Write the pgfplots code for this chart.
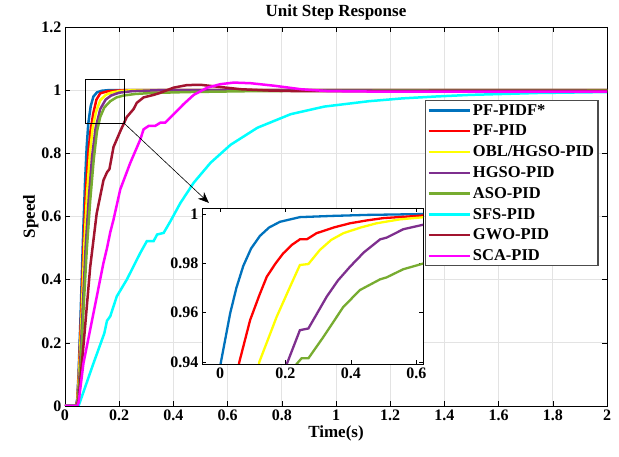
\documentclass[border=0pt]{standalone}
\usepackage{pgfplots}
\pgfplotsset{compat=1.18}
\usepackage{fontspec}
\setmainfont{Liberation Serif}
\usetikzlibrary{arrows.meta}
\definecolor{mblue}{rgb}{0,0.447,0.741}
\definecolor{mpurple}{rgb}{0.494,0.184,0.556}
\definecolor{mgreen}{rgb}{0.466,0.674,0.188}
\definecolor{mdred}{rgb}{0.635,0.078,0.184}
\definecolor{mred}{rgb}{1,0,0}
\definecolor{myellow}{rgb}{1,1,0}
\definecolor{mcyan}{rgb}{0,1,1}
\definecolor{mmagenta}{rgb}{1,0,1}
\begin{document}
\begin{tikzpicture}
\begin{axis}[
  name=main,
  width=542pt,height=379pt,scale only axis,
  xmin=0,xmax=2,ymin=0,ymax=1.2,
  xtick={0,0.2,0.4,0.6,0.8,1,1.2,1.4,1.6,1.8,2},
  xticklabels={0,0.2,0.4,0.6,0.8,1,1.2,1.4,1.6,1.8,2},
  ytick={0,0.2,0.4,0.6,0.8,1,1.2},
  yticklabels={0,0.2,0.4,0.6,0.8,1,1.2},
  grid=major, grid style={gray!22,line width=0.7pt},
  tick align=inside, major tick length=5pt,
  axis line style={line width=0.8pt},
  tick style={black,line width=0.6pt},
  ticklabel style={font=\fontsize{16}{18}\selectfont\bfseries},
  /pgf/number format/assume math mode=true,
  title={Unit Step Response},
  title style={font=\fontsize{17}{20}\selectfont\bfseries,yshift=-3pt},
  xlabel={Time(s)}, ylabel={Speed},
  label style={font=\fontsize{17}{20}\selectfont\bfseries},
  xlabel style={yshift=2pt},
  ylabel style={yshift=-4pt},
  legend image code/.code={\draw[#1] (0pt,0pt) -- (41pt,0pt);},
  legend style={at={(0.664,0.807)},anchor=north west,draw=gray!60!black,line width=1.2pt,
    font=\fontsize{16.5}{19}\selectfont\bfseries,cells={anchor=west},
    inner xsep=2pt,inner ysep=1.5pt,row sep=4.4pt},
  every axis plot/.append style={line width=2.5pt},
]
\addplot[mblue] coordinates {(0,0)(0.04,0)(0.045,0.02)(0.05,0.1)(0.058,0.3)(0.066,0.52)(0.074,0.71)(0.08,0.82)(0.086,0.895)(0.095,0.95)(0.105,0.98)(0.118,0.993)(0.135,0.998)(0.16,1)(2,1)};
\addplot[mred] coordinates {(0,0)(0.04,0)(0.045,0.015)(0.051,0.1)(0.06,0.3)(0.069,0.52)(0.078,0.69)(0.086,0.8)(0.094,0.87)(0.104,0.925)(0.116,0.97)(0.13,0.99)(0.16,0.997)(0.22,1)(2,1)};
\addplot[myellow] coordinates {(0,0)(0.04,0)(0.045,0.01)(0.052,0.1)(0.062,0.3)(0.072,0.52)(0.082,0.68)(0.092,0.8)(0.102,0.88)(0.114,0.93)(0.13,0.968)(0.15,0.985)(0.17,0.992)(0.2,0.997)(0.25,1)(2,1)};
\addplot[mpurple] coordinates {(0,0)(0.04,0)(0.046,0.01)(0.054,0.1)(0.065,0.3)(0.076,0.5)(0.088,0.66)(0.1,0.79)(0.113,0.88)(0.13,0.94)(0.15,0.97)(0.17,0.983)(0.2,0.992)(0.25,0.997)(0.35,1)(2,1)};
\addplot[mgreen] coordinates {(0,0)(0.04,0)(0.047,0.01)(0.056,0.1)(0.068,0.3)(0.08,0.49)(0.093,0.65)(0.106,0.78)(0.118,0.87)(0.13,0.915)(0.145,0.945)(0.167,0.965)(0.19,0.977)(0.216,0.983)(0.26,0.988)(0.32,0.991)(0.45,0.994)(0.7,0.997)(1,0.998)(2,0.999)};
\addplot[mcyan] coordinates {(0,0)(0.05,0)(0.105,0.135)(0.145,0.23)(0.155,0.27)(0.167,0.284)(0.191,0.347)(0.228,0.4)(0.278,0.485)(0.302,0.522)(0.327,0.522)(0.34,0.543)(0.364,0.548)(0.389,0.585)(0.426,0.643)(0.475,0.707)(0.537,0.77)(0.611,0.827)(0.71,0.881)(0.833,0.924)(0.957,0.948)(1.121,0.965)(1.246,0.974)(1.37,0.98)(1.494,0.985)(1.743,0.991)(2,0.994)};
\addplot[mdred] coordinates {(0,0)(0.045,0)(0.05,0.02)(0.068,0.19)(0.093,0.44)(0.117,0.61)(0.142,0.715)(0.155,0.74)(0.164,0.75)(0.179,0.82)(0.204,0.87)(0.228,0.915)(0.253,0.94)(0.265,0.96)(0.29,0.977)(0.327,0.985)(0.346,0.99)(0.401,1.008)(0.45,1.016)(0.5,1.017)(0.562,1.011)(0.648,1.003)(0.747,0.999)(0.85,0.997)(1,0.997)(2,0.998)};
\addplot[mmagenta] coordinates {(0,0)(0.045,0)(0.05,0.01)(0.068,0.135)(0.105,0.294)(0.142,0.453)(0.155,0.5)(0.167,0.55)(0.179,0.59)(0.204,0.686)(0.241,0.77)(0.278,0.844)(0.29,0.876)(0.309,0.887)(0.333,0.887)(0.352,0.897)(0.37,0.897)(0.401,0.924)(0.438,0.956)(0.475,0.985)(0.525,1.008)(0.574,1.019)(0.623,1.024)(0.685,1.022)(0.772,1.014)(0.87,1.003)(0.97,0.997)(1.2,0.995)(2,0.995)};
\legend{PF-PIDF*,PF-PID,OBL/HGSO-PID,HGSO-PID,ASO-PID,SFS-PID,GWO-PID,SCA-PID}
\draw[black,line width=0.8pt] (axis cs:0.074,0.895) rectangle (axis cs:0.2185,1.035);
\draw[black,line width=0.6pt,-{Stealth[length=11pt,width=9pt]}] (axis cs:0.2185,0.895) -- (axis cs:0.531,0.643);
\end{axis}
\begin{axis}[
  name=inset,
  at={(137pt,42pt)},anchor=south west,
  width=221pt,height=156pt,scale only axis,
  xmin=-0.055,xmax=0.62,ymin=0.9392,ymax=1.0024,
  axis background/.style={fill=white},
  xtick={0,0.2,0.4,0.6}, xticklabels={0,0.2,0.4,0.6},
  ytick={0.94,0.96,0.98,1}, yticklabels={0.94,0.96,0.98,1},
  tick align=inside, major tick length=4pt,
  axis line style={line width=0.8pt},
  tick style={black,line width=0.6pt},
  ticklabel style={font=\fontsize{16}{18}\selectfont\bfseries},
  /pgf/number format/assume math mode=true,
  every axis plot/.append style={line width=2.3pt},
]
\addplot[mblue] coordinates {(-0.02,0.92)(0.002,0.9394)(0.031,0.9597)(0.05,0.970)(0.071,0.9789)(0.095,0.9860)(0.122,0.9911)(0.15,0.9945)(0.183,0.9968)(0.244,0.9987)(0.345,0.9992)(0.45,0.9996)(0.65,1.0)};
\addplot[mred] coordinates {(0.04,0.925)(0.059,0.94)(0.092,0.957)(0.12,0.967)(0.143,0.9746)(0.17,0.9800)(0.193,0.984)(0.22,0.9875)(0.244,0.9897)(0.265,0.9897)(0.295,0.9922)(0.35,0.9946)(0.397,0.9962)(0.45,0.9974)(0.499,0.9983)(0.65,0.9996)};
\addplot[myellow] coordinates {(0.1,0.925)(0.12,0.94)(0.173,0.9583)(0.214,0.9705)(0.244,0.9793)(0.27,0.9797)(0.305,0.9854)(0.34,0.9895)(0.377,0.9922)(0.43,0.9945)(0.478,0.9962)(0.55,0.9978)(0.65,0.9990)};
\addplot[mpurple] coordinates {(0.19,0.93)(0.204,0.9392)(0.244,0.9529)(0.27,0.9536)(0.326,0.9665)(0.36,0.9730)(0.397,0.9786)(0.44,0.9845)(0.489,0.9897)(0.509,0.9904)(0.56,0.9938)(0.65,0.9965)};
\addplot[mgreen] coordinates {(0.22,0.93)(0.234,0.9392)(0.249,0.9415)(0.27,0.9415)(0.316,0.9502)(0.377,0.9624)(0.428,0.9692)(0.489,0.9735)(0.509,0.9743)(0.56,0.9776)(0.65,0.981)};
\end{axis}
\pgfresetboundingbox
\path[use as bounding box] (-65pt,-51pt) rectangle (554pt,406pt);
\end{tikzpicture}
\end{document}
